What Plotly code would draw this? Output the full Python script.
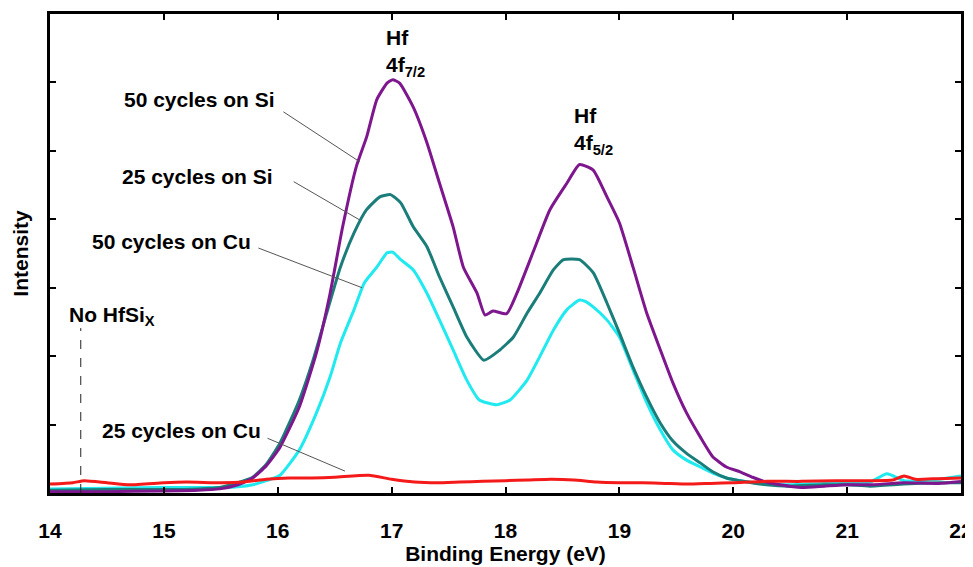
import plotly.graph_objects as go

# ---- data ----
si50_x = [14.0, 14.5, 15.0, 15.3, 15.49, 15.65, 15.78, 15.9, 16.02, 16.19,
          16.34, 16.46, 16.57, 16.69, 16.78, 16.87, 16.96, 17.01, 17.07, 17.19,
          17.31, 17.42, 17.54, 17.63, 17.75, 17.82, 17.89, 18.01, 18.10, 18.24,
          18.39, 18.54, 18.65, 18.77, 18.89, 19.0, 19.12, 19.24, 19.36, 19.47,
          19.59, 19.71, 19.82, 19.94, 20.06, 20.17, 20.29, 20.41, 20.6, 20.8,
          21.0, 21.2, 21.5, 21.8, 22.0]
si50_y = [0.02, 0.02, 0.03, 0.04, 0.06, 0.12, 0.22, 0.4, 0.67, 1.26,
          2.05, 2.92, 3.89, 4.77, 5.2, 5.75, 5.99, 6.04, 5.99, 5.64,
          5.12, 4.53, 3.89, 3.30, 2.92, 2.60, 2.66, 2.62, 2.92, 3.51,
          4.14, 4.53, 4.80, 4.72, 4.33, 3.95, 3.30, 2.63, 2.09, 1.61,
          1.17, 0.82, 0.53, 0.38, 0.31, 0.23, 0.16, 0.12, 0.08, 0.1,
          0.12, 0.12, 0.15, 0.14, 0.17]

si25_x = [14.0, 14.5, 15.0, 15.3, 15.49, 15.65, 15.78, 15.9, 16.02, 16.19,
          16.31, 16.43, 16.55, 16.67, 16.78, 16.90, 16.99, 17.08, 17.19, 17.31,
          17.42, 17.54, 17.66, 17.81, 17.95, 18.07, 18.19, 18.30, 18.42, 18.51,
          18.65, 18.77, 18.89, 19.0, 19.12, 19.24, 19.36, 19.47, 19.59, 19.71,
          19.82, 19.94, 20.06, 20.29, 20.5, 20.8, 21.0, 21.2, 21.5, 21.8,
          22.0]
si25_y = [0.04, 0.05, 0.05, 0.06, 0.08, 0.15, 0.23, 0.42, 0.73, 1.36,
          1.94, 2.63, 3.30, 3.80, 4.14, 4.33, 4.36, 4.24, 3.89, 3.60,
          3.16, 2.72, 2.28, 1.94, 2.09, 2.28, 2.63, 2.92, 3.26, 3.41,
          3.41, 3.22, 2.78, 2.34, 1.84, 1.40, 1.02, 0.76, 0.58, 0.44,
          0.31, 0.22, 0.18, 0.12, 0.1, 0.12, 0.12, 0.1, 0.13, 0.15,
          0.15]

cu50_x = [14.0, 14.5, 15.0, 15.3, 15.5, 15.65, 15.78, 15.9, 16.02, 16.19,
          16.34, 16.46, 16.55, 16.67, 16.76, 16.87, 16.96, 17.01, 17.08, 17.19,
          17.31, 17.42, 17.54, 17.66, 17.77, 17.92, 18.04, 18.19, 18.30, 18.42,
          18.54, 18.65, 18.70, 18.77, 18.89, 19.0, 19.12, 19.24, 19.36, 19.47,
          19.59, 19.71, 19.82, 19.94, 20.06, 20.3, 20.5, 20.8, 21.0, 21.2,
          21.35, 21.5, 21.8, 22.0]
cu50_y = [0.06, 0.07, 0.08, 0.08, 0.08, 0.09, 0.12, 0.18, 0.26, 0.63,
          1.17, 1.70, 2.19, 2.68, 3.07, 3.30, 3.51, 3.52, 3.41, 3.26,
          2.92, 2.53, 2.09, 1.65, 1.36, 1.29, 1.36, 1.65, 1.99, 2.38,
          2.68, 2.82, 2.80, 2.72, 2.53, 2.28, 1.80, 1.32, 0.92, 0.63,
          0.48, 0.38, 0.29, 0.22, 0.18, 0.13, 0.12, 0.14, 0.14, 0.16,
          0.28, 0.18, 0.2, 0.25]

cu25_x = [14.0, 14.2, 14.3, 14.5, 14.7, 15.0, 15.2, 15.5, 15.7, 15.9,
          16.1, 16.3, 16.5, 16.8, 17.0, 17.2, 17.4, 17.6, 17.8, 18.0,
          18.2, 18.4, 18.6, 18.8, 19.0, 19.2, 19.4, 19.6, 19.8, 20.0,
          20.3, 20.6, 20.9, 21.2, 21.4, 21.5, 21.6, 21.8, 22.0]
cu25_y = [0.13, 0.15, 0.18, 0.15, 0.12, 0.15, 0.16, 0.15, 0.16, 0.2,
          0.22, 0.22, 0.23, 0.26, 0.2, 0.16, 0.15, 0.16, 0.17, 0.18,
          0.19, 0.2, 0.19, 0.16, 0.15, 0.15, 0.14, 0.13, 0.14, 0.15,
          0.17, 0.17, 0.18, 0.18, 0.19, 0.25, 0.2, 0.21, 0.22]

x_ticks = [14, 15, 16, 17, 18, 19, 20, 21, 22]
x_tick_labels = ["14", "15", "16", "17", "18", "19", "20", "21", "22"]

series = [
    ("50 cycles on Cu", cu50_x, cu50_y, "#1EEAF0"),
    ("25 cycles on Si", si25_x, si25_y, "#1A7D7A"),
    ("50 cycles on Si", si50_x, si50_y, "#7E168E"),
    ("25 cycles on Cu", cu25_x, cu25_y, "#F41A1A"),
]

FONT = "Liberation Sans, Arial, sans-serif"
ANN_FONT = dict(family=FONT, size=21, color="black", weight="bold")

fig = go.Figure()
for name, xs, ys, col in series:
    fig.add_trace(go.Scatter(x=xs, y=ys, mode="lines", name=name,
                             line=dict(color=col, width=3, shape="spline", smoothing=0.5),
                             showlegend=False))

# curve labels with leader lines: (label, text anchor x,y, line start, line end)
labels = [
    ("50 cycles on Si", 15.99, 5.75, (16.05, 5.57), (16.72, 4.84)),
    ("25 cycles on Si", 15.98, 4.62, (16.14, 4.55), (16.72, 3.99)),
    ("50 cycles on Cu", 15.78, 3.67, (15.83, 3.58), (16.74, 3.00)),
    ("25 cycles on Cu", 15.87, 0.92, (15.91, 0.80), (16.59, 0.32)),
]
for text, tx, ty, p0, p1 in labels:
    fig.add_shape(type="line", x0=p0[0], y0=p0[1], x1=p1[0], y1=p1[1],
                  line=dict(color="#555555", width=1))
    fig.add_annotation(x=tx, y=ty, text=text, showarrow=False, xanchor="right",
                       yanchor="middle", font=ANN_FONT)

# No HfSix marker
fig.add_shape(type="line", x0=14.27, x1=14.27, y0=0, y1=2.41,
              line=dict(color="#222222", width=1, dash="dash"))
fig.add_annotation(x=14.15, y=2.58, text="No HfSi<sub>X</sub>", showarrow=False,
                   xanchor="left", yanchor="middle", font=ANN_FONT)

# peak labels
fig.add_annotation(x=16.93, y=6.86, text="Hf<br>4f<sub>7/2</sub>", showarrow=False,
                   xanchor="left", yanchor="top", align="left", font=ANN_FONT)
fig.add_annotation(x=18.58, y=5.72, text="Hf<br>4f<sub>5/2</sub>", showarrow=False,
                   xanchor="left", yanchor="top", align="left", font=ANN_FONT)

# the page body has an 8px margin, so the figure is sized to fill the rest of the window
fig.update_layout(
    width=965, height=559,
    margin=dict(l=42, r=12, t=6, b=74, autoexpand=False),
    paper_bgcolor="white", plot_bgcolor="white",
    font=dict(family=FONT, color="black"),
)
fig.update_xaxes(
    range=[14, 22], tickvals=x_ticks, ticktext=x_tick_labels,
    showgrid=False, zeroline=False, automargin=False,
    showline=True, linecolor="black", linewidth=3, mirror="allticks",
    ticks="inside", ticklen=6, tickwidth=1.5, tickcolor="black",
    tickfont=dict(family=FONT, size=21, color="black", weight="bold"),
    ticklabelstandoff=17,
    title=dict(text="Binding Energy (eV)", standoff=5,
               font=dict(family=FONT, size=21, color="black", weight="bold")),
)
fig.update_yaxes(
    range=[0, 7], dtick=1, showticklabels=False,
    showgrid=False, zeroline=False, automargin=False,
    showline=True, linecolor="black", linewidth=3, mirror="allticks",
    ticks="inside", ticklen=6, tickwidth=1.5, tickcolor="black",
    title=dict(text="Intensity", standoff=13,
               font=dict(family=FONT, size=21, color="black", weight="bold")),
)

fig.write_html("out.html")
